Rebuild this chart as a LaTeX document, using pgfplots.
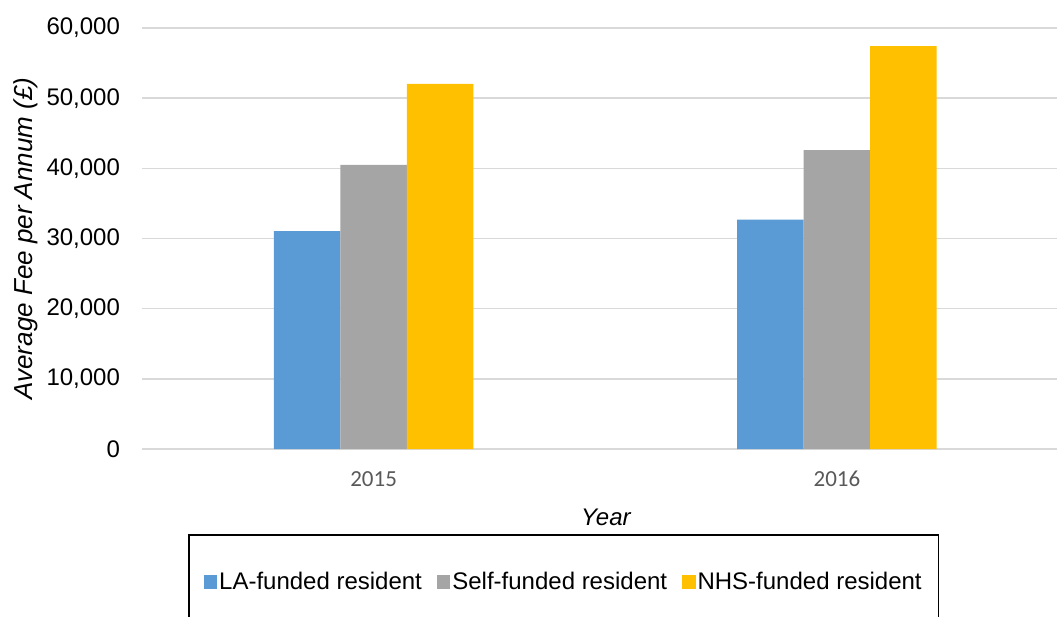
\documentclass[border=0pt]{standalone}
\usepackage{fontspec}
\setmainfont{Liberation Sans}
\newfontfamily\calibri{Carlito}
\usepackage{pgfplots}
\pgfplotsset{compat=1.18}
\definecolor{cBlue}{HTML}{5B9BD5}
\definecolor{cGray}{HTML}{A5A5A5}
\definecolor{cGold}{HTML}{FFC000}
\definecolor{cGrid}{HTML}{D9D9D9}
\definecolor{cTick}{HTML}{595959}
\begin{document}
\begin{tikzpicture}
\path[use as bounding box] (-71pt,-84pt) rectangle (457.5pt,224.5pt);
\begin{axis}[
  at={(0pt,0pt)}, anchor=south west,
  scale only axis, width=457.5pt, height=210.5pt,
  xmin=-0.5, xmax=1.475, ymin=0, ymax=60000,
  xtick={0,1}, xticklabels={2015,2016},
  ytick={0,10000,20000,30000,40000,50000,60000},
  scaled y ticks=false,
  /pgf/number format/.cd, 1000 sep={,}, assume math mode=true, /pgfplots/.cd,
  axis line style={draw=none},
  major tick length=0pt, tick style={draw=none},
  ymajorgrids, grid style={draw=cGrid, line width=0.75pt},
  yticklabel style={font=\fontsize{12}{14}\selectfont, anchor=east, xshift=-7.5pt},
  xticklabel style={font=\calibri\fontsize{11.5}{14}\selectfont, text=cTick, anchor=center, yshift=-15pt},
  ylabel={\itshape Average Fee per Annum (£)},
  ylabel style={font=\fontsize{13}{15}\selectfont, at={(axis description cs:-0.1268,0.5)}, anchor=center, rotate=0},
  xlabel={\itshape Year},
  xlabel style={font=\fontsize{12}{14}\selectfont, at={(axis description cs:0.507,-0.1615)}, anchor=center},
  legend columns=3,
  legend style={at={(axis description cs:0.0503,-0.2019)}, anchor=north west,
    draw=black, line width=0.75pt, inner xsep=7.5pt, inner ysep=17.5pt,
    font=\fontsize{12}{14}\selectfont,
    nodes={inner sep=1pt, anchor=west},
    /tikz/every even column/.append style={column sep=6.5pt}},
  legend image code/.code={\fill[#1] (0pt,-3.35pt) rectangle (6.7pt,3.35pt);},
]
\addplot[ybar, bar width=33.25pt, bar shift=-33.25pt, fill=cBlue, draw=none] coordinates {(0,31050) (1,32700)};
\addplot[ybar, bar width=33.25pt, bar shift=0pt, fill=cGray, draw=none] coordinates {(0,40500) (1,42600)};
\addplot[ybar, bar width=33.25pt, bar shift=33.25pt, fill=cGold, draw=none] coordinates {(0,52050) (1,57400)};
\legend{LA-funded resident, Self-funded resident, NHS-funded resident}
\end{axis}
\end{tikzpicture}
\end{document}
